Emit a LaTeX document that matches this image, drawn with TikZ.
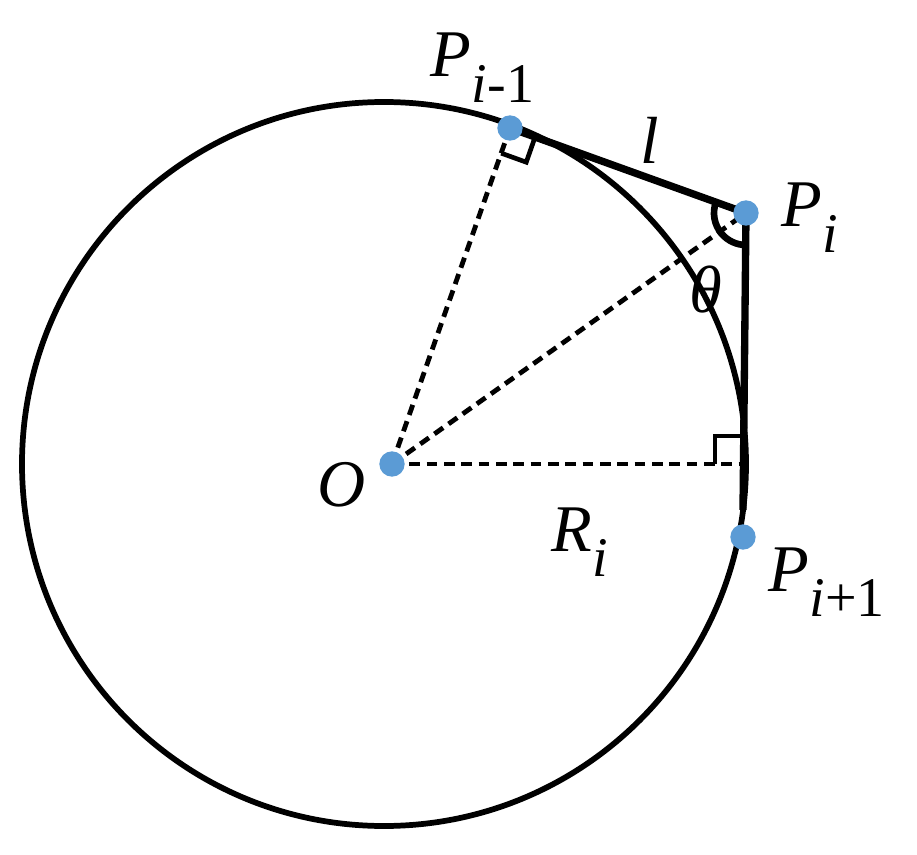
\documentclass[tikz,border=0pt]{standalone}
\usepackage{fontspec}
\setmainfont{Liberation Serif}[ItalicFont={Liberation Serif Italic}]
\newfontfamily\tmsit{Liberation Serif Italic}
\newfontfamily\tmsup{Liberation Serif}
\usetikzlibrary{calc}
\definecolor{dotblue}{HTML}{5B9BD5}
\newcommand{\subit}[1]{\textsubscript{\fontsize{42}{46}\selectfont\tmsit #1}}
\newcommand{\subup}[1]{\textsubscript{\fontsize{42}{46}\selectfont\tmsup #1}}
\tikzset{
  dot/.style={circle,fill=dotblue,inner sep=0pt,minimum size=19pt},
  lbl/.style={font=\fontsize{50}{54}\selectfont\tmsit,inner sep=0pt},
  dsh/.style={line width=3.6pt,dash pattern=on 8pt off 5pt},
  thk/.style={line width=5.5pt},
}
\begin{document}
\begin{tikzpicture}[x=0.75pt,y=0.75pt]
\useasboundingbox (0,0) rectangle (917,-855);
\coordinate (C) at (384,-464);
\coordinate (O) at (392,-464);
\coordinate (A) at (510,-128);
\coordinate (B) at (746,-213);
\coordinate (D) at (743,-537);
\coordinate (F) at (743,-464);
\draw[line width=4.3pt] (C) circle[radius=271.5pt];
\draw[dsh] (O) -- (A);
\draw[dsh] (O) -- (B);
\draw[dsh] (O) -- (F);
\draw[thk] (A) -- (B);
\draw[thk] (B) -- (743,-510);
\draw[line width=3.5pt] ($(A)!20pt!(O)$) -- ($($(A)!20pt!(O)$)+($(A)!20pt!(B)$)-(A)$) -- ($(A)!20pt!(B)$);
\draw[line width=3.5pt] (715,-464) -- (715,-436) -- (743,-436);
\draw[line width=5pt] (B) ++(160:24pt) arc[start angle=160,end angle=270,radius=24pt];
\node[dot] (o) at (O) {};
\node[dot] (a) at (A) {};
\node[dot] (b) at (B) {};
\node[dot] (d) at (D) {};
\node[lbl] at (483,-68) {P\subit{i}\subup{-1}};
\node[lbl] at (650,-140) {l};
\node[lbl] at (810,-218) {P\subit{i}};
\node[lbl] at (706,-290) {θ};
\node[lbl] at (342,-485) {O};
\node[lbl] at (580,-542) {R\subit{i}};
\node[lbl] at (827,-582) {P\subit{i}\subup{+1}};
\end{tikzpicture}
\end{document}
